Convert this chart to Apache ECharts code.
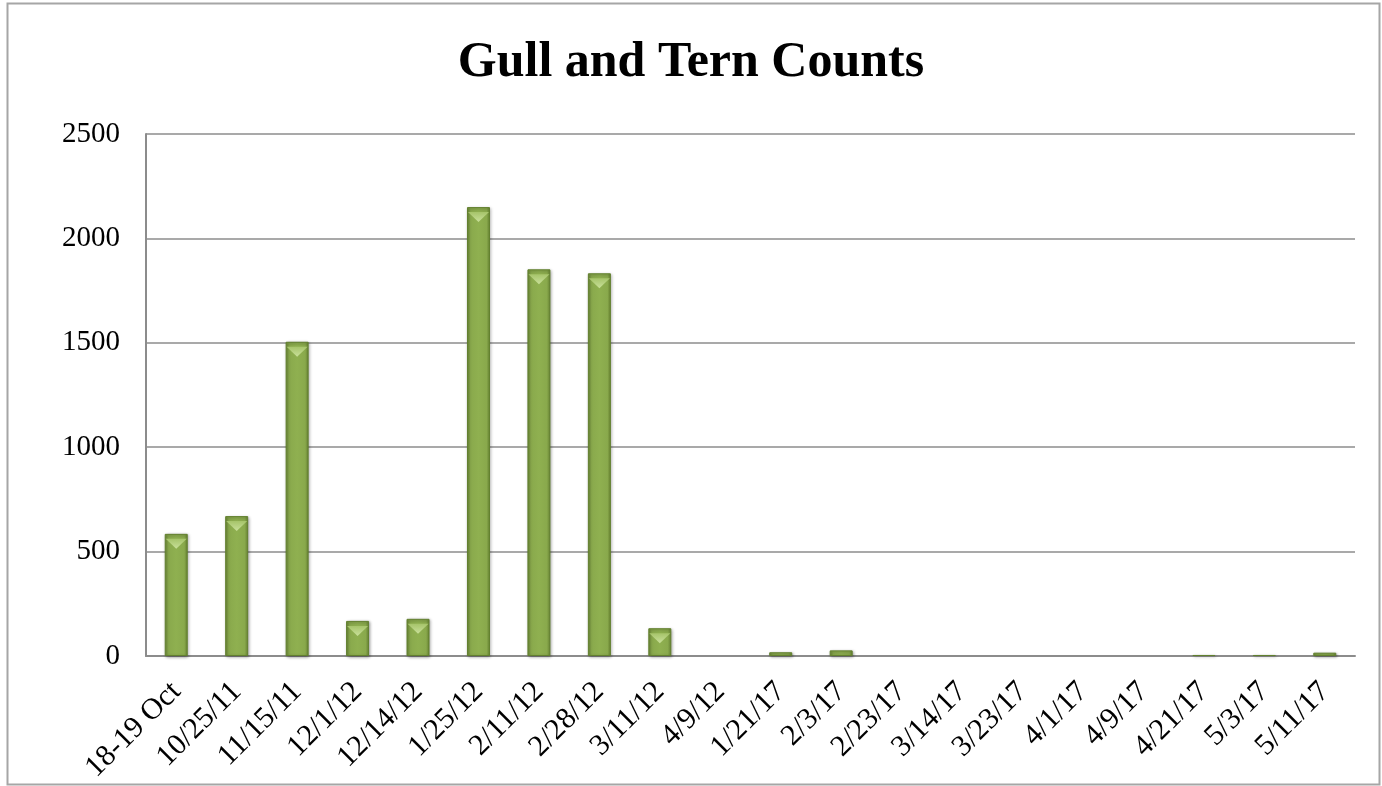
<!DOCTYPE html>
<html>
<head>
<meta charset="utf-8">
<script src="https://cdn.jsdelivr.net/npm/echarts@6/dist/echarts.min.js"></script>
<style>
html,body{margin:0;padding:0;background:#fff;}
#chart{width:1382px;height:786px;}
</style>
</head>
<body>
<div id="chart"></div>
<script>
var title = 'Gull and Tern Counts';
var categories = ['18-19 Oct','10/25/11','11/15/11','12/1/12','12/14/12','1/25/12','2/11/12','2/28/12','3/11/12','4/9/12','1/21/17','2/3/17','2/23/17','3/14/17','3/23/17','4/1/17','4/9/17','4/21/17','5/3/17','5/11/17'];
var counts = [585, 670, 1505, 168, 178, 2150, 1852, 1833, 133, null, 18, 27, null, null, null, null, null, 5, 5, 16];
var yTicks = [0, 500, 1000, 1500, 2000, 2500];

var chart = echarts.init(document.getElementById('chart'));
var fontFam = 'Liberation Serif, serif';
chart.setOption({
  animation: false,
  backgroundColor: '#fff',
  graphic: [{
    type: 'rect',
    shape: {x: 7.5, y: 3.5, width: 1372, height: 781},
    style: {fill: 'none', stroke: '#a6a6a6', lineWidth: 2},
    silent: true
  }],
  title: {
    text: title,
    left: 'center',
    top: 33,
    textStyle: {fontFamily: fontFam, fontWeight: 'bold', fontSize: 50, color: '#000'}
  },
  grid: {left: 146, right: 27, top: 134, bottom: 130, containLabel: false},
  xAxis: {
    type: 'category',
    data: categories,
    axisLine: {lineStyle: {color: '#8c8c8c', width: 2}},
    axisTick: {show: false},
    axisLabel: {
      rotate: 45, color: '#000', fontFamily: fontFam, fontSize: 30, margin: 31, interval: 0
    }
  },
  yAxis: {
    type: 'value',
    min: yTicks[0],
    max: yTicks[yTicks.length - 1],
    interval: 500,
    axisLine: {show: true, lineStyle: {color: '#8c8c8c', width: 2}},
    axisTick: {show: false},
    splitLine: {lineStyle: {color: '#8c8c8c', width: 1.5}},
    axisLabel: {color: '#000', fontFamily: fontFam, fontSize: 29, margin: 26,
      formatter: function (v) { return String(v); }}
  },
  series: [{
    type: 'bar',
    data: counts,
    barWidth: 23,
    itemStyle: {
      color: {
        type: 'linear', x: 0, y: 0, x2: 1, y2: 0,
        colorStops: [
          {offset: 0, color: '#6f8c38'},
          {offset: 0.15, color: '#89a94c'},
          {offset: 0.5, color: '#8fb050'},
          {offset: 0.85, color: '#89a94c'},
          {offset: 1, color: '#6a8634'}
        ]
      },
      borderColor: '#62802e',
      borderWidth: 1,
      shadowColor: 'rgba(0,0,0,0.35)',
      shadowBlur: 3,
      shadowOffsetX: 1,
      shadowOffsetY: 1
    },
    z: 2
  }, {
    type: 'pictorialBar',
    data: counts.map(function (v) { return v >= 100 ? v : null; }),
    symbol: 'triangle',
    symbolRotate: 180,
    symbolSize: [21, 10],
    symbolPosition: 'end',
    symbolOffset: [0, 5],
    itemStyle: {
      color: {
        type: 'linear', x: 0, y: 0, x2: 0, y2: 1,
        colorStops: [{offset: 0, color: '#c9e09a'}, {offset: 1, color: '#a6c46a'}]
      }
    },
    z: 3,
    silent: true
  }]
});
</script>
</body>
</html>
